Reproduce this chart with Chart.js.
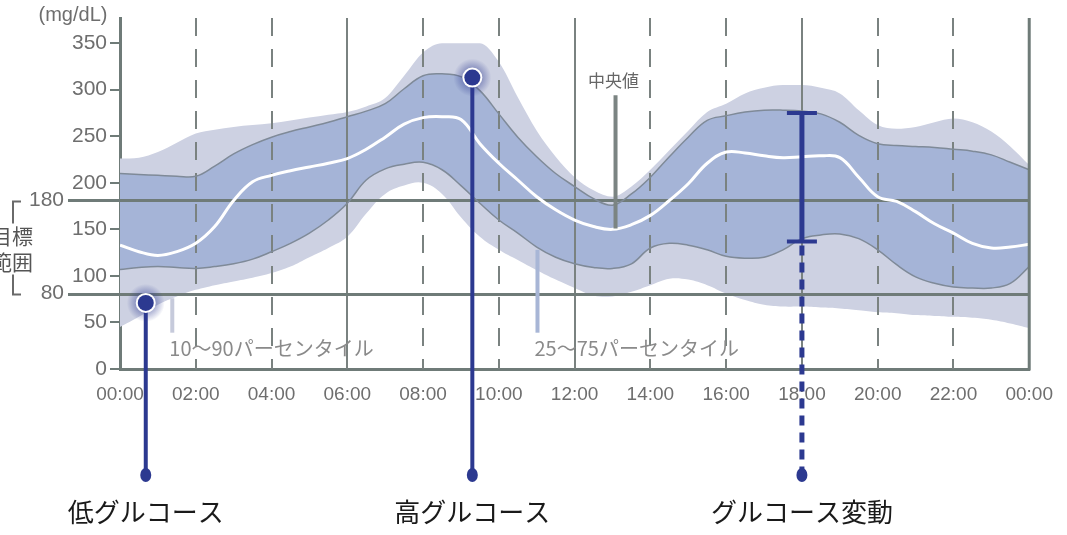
<!DOCTYPE html>
<html><head><meta charset="utf-8">
<script src="https://cdn.jsdelivr.net/npm/chart.js@4/dist/chart.umd.min.js"></script>
<style>html,body{margin:0;padding:0;background:#fff;overflow:hidden}canvas{display:block}</style>
</head><body>
<canvas id="c" width="1067" height="535"></canvas>
<script>
// ---- data ----
const hours = [0,0.5,1,1.5,2,2.5,3,3.5,4,4.5,5,5.5,6,6.5,7,7.5,8,8.5,9,9.5,10,10.5,11,11.5,12,12.5,13,13.5,14,14.5,15,15.5,16,16.5,17,17.5,18,18.5,19,19.5,20,20.5,21,21.5,22,22.5,23,23.5,24];
const p90 = [226,227,233,243,253,257,260,262,264,267,270,273,276,282,291,315,340,350,350,350,330,292,256,228,206,192,185,196,214,235,256,276,285,296,302,305,305,302,296,278,262,258,260,265,269,265,255,239,219];
const p75 = [210,209,208,207,207,218,231,241,249,255,260,265,271,277,285,301,315,317,314,299,274,249,228,210,196,183,176,188,206,228,249,267,272,276,278,278,277,274,265,251,242,240,239,238,236,234,230,222,214];
const median = [133,126,122,126,135,153,181,201,208,213,217,221,226,236,249,263,270,271,268,242,221,203,185,171,160,153,150,155,165,181,199,221,233,232,229,227,228,229,227,206,185,180,169,156,146,135,130,131,134];
const p25 = [107,109,110,109,108,110,113,118,126,135,146,160,178,203,215,220,222,214,197,178,160,146,131,120,113,109,108,113,130,135,133,128,121,119,120,128,140,144,145,140,128,112,99,92,88,87,87,92,110];
const p10 = [45,56,69,78,85,90,94,98,103,110,120,130,142,167,188,197,200,188,163,142,128,117,106,96,87,79,78,83,90,97,96,90,81,74,69,67,67,66,65,63,61,60,58,57,56,55,53,49,44];

const xTickHours = [0,2,4,6,8,10,12,14,16,18,20,22,24];
const xTickLabels = ['00:00','02:00','04:00','06:00','08:00','10:00','12:00','14:00','16:00','18:00','20:00','22:00','00:00'];
const yTickValues = [0,50,100,150,200,250,300,350];
const solidGridHours = [6,12,18];
const dashedGridHours = [2,4,8,10,14,16,20,22];
const targetRange = [80,180];
const unitLabel = '(mg/dL)';
const targetLabel = ['目標','範囲'];

const eventLabels = ['低グルコース','高グルコース','グルコース変動'];
const eventHours = [0.68, 9.3, 18];
const eventValues = [71, 313, null];
const variabilityRange = [137, 275];

const medianLabel = '中央値';
const medianPointer = {hour: 13.08, top: 294, bottom: 151};
const bandLabels = ['10〜90パーセンタイル','25〜75パーセンタイル'];
const bandPointerHours = [1.38, 11.02];
const bandPointerTops = [76, 128];
const bandPointerBottom = 39;

// ---- style ----
const C = {
  light:'#cdd1e2', dark:'#a5b4d7', edge:'#7f8a98', grid:'#7a8280', axis:'#6f7b78',
  tick:'#6e6e6e', blue:'#2c3990', band1:'#c6cadb', band2:'#a8b6d6', pointer:'#7b8482'
};
const JP = '"Noto Sans CJK JP", "Noto Sans", sans-serif';
const LAT = '"Liberation Sans", Arial, sans-serif';

function pts(arr){ return hours.map((h,i)=>({x:h,y:arr[i]})); }

const overlay = {
  id:'overlay',
  beforeDatasetDraw(chart,args){
    if(args.index !== 4) return;
    const {ctx, chartArea:a, scales:{x,y}} = chart;
    ctx.save();
    ctx.lineWidth = 2; ctx.strokeStyle = C.grid;
    ctx.setLineDash([18,13]);
    dashedGridHours.forEach(h=>{const px=Math.round(x.getPixelForValue(h));ctx.beginPath();ctx.moveTo(px,a.top);ctx.lineTo(px,a.bottom);ctx.stroke();});
    ctx.setLineDash([]);
    solidGridHours.forEach(h=>{const px=Math.round(x.getPixelForValue(h));ctx.beginPath();ctx.moveTo(px,a.top);ctx.lineTo(px,a.bottom);ctx.stroke();});
    // target range lines
    ctx.lineWidth = 3; ctx.strokeStyle = C.axis;
    targetRange.forEach(v=>{const py=Math.round(y.getPixelForValue(v))-0.5;ctx.beginPath();ctx.moveTo(68,py);ctx.lineTo(a.right,py);ctx.stroke();});
    ctx.restore();
  },
  afterDraw(chart){
    const {ctx, chartArea:a, scales:{x,y}} = chart;
    ctx.save();
    // right border
    ctx.lineWidth=3; ctx.strokeStyle=C.axis;
    ctx.beginPath(); ctx.moveTo(a.right,a.top); ctx.lineTo(a.right,a.bottom+1.5); ctx.stroke();
    // unit label
    ctx.fillStyle=C.tick; ctx.font='20px '+LAT; ctx.textAlign='center'; ctx.textBaseline='middle';
    ctx.fillText(unitLabel,73,15);
    // target labels
    ctx.textAlign='right'; ctx.font='21px '+LAT;
    targetRange.forEach(v=>{ctx.fillText(String(v),64,y.getPixelForValue(v)-1);});
    const yT=y.getPixelForValue(targetRange[1]), yB=y.getPixelForValue(targetRange[0]);
    ctx.strokeStyle='#6a6a6a'; ctx.lineWidth=2;
    ctx.beginPath(); ctx.moveTo(21,yT); ctx.lineTo(13,yT); ctx.lineTo(13,yT+22); ctx.stroke();
    ctx.beginPath(); ctx.moveTo(13,yB-20); ctx.lineTo(13,yB); ctx.lineTo(21,yB); ctx.stroke();
    ctx.font='21px '+JP; ctx.fillStyle='#555';
    ctx.fillText(targetLabel[0],33,(yT+yB)/2-12);
    ctx.fillText(targetLabel[1],33,(yT+yB)/2+14);
    // median pointer
    const mx=x.getPixelForValue(medianPointer.hour);
    ctx.strokeStyle=C.pointer; ctx.lineWidth=4;
    ctx.beginPath(); ctx.moveTo(mx,y.getPixelForValue(medianPointer.top)); ctx.lineTo(mx,y.getPixelForValue(medianPointer.bottom)); ctx.stroke();
    ctx.fillStyle='#666'; ctx.font='17px '+JP; ctx.textAlign='center';
    ctx.fillText(medianLabel,mx-2,y.getPixelForValue(medianPointer.top)-15);
    // band pointers
    [C.band1,C.band2].forEach((col,i)=>{
      const bx=x.getPixelForValue(bandPointerHours[i]);
      const yb=y.getPixelForValue(bandPointerBottom);
      ctx.strokeStyle=col; ctx.lineWidth=4;
      ctx.beginPath(); ctx.moveTo(bx,y.getPixelForValue(bandPointerTops[i])); ctx.lineTo(bx,yb); ctx.stroke();
      ctx.fillStyle='#8a8a8a'; ctx.font='20px '+JP; ctx.textAlign='left';
      ctx.fillText(bandLabels[i],bx-3,yb+16);
    });
    // event markers
    const dotY=a.bottom+106, labY=a.bottom+143;
    eventHours.forEach((h,i)=>{
      const ex=x.getPixelForValue(h);
      ctx.strokeStyle=C.blue; ctx.fillStyle=C.blue;
      if(eventValues[i]!==null){
        const ey=y.getPixelForValue(eventValues[i]);
        ctx.lineWidth=4; ctx.setLineDash([]);
        ctx.beginPath(); ctx.moveTo(ex,ey); ctx.lineTo(ex,dotY); ctx.stroke();
        const g=ctx.createRadialGradient(ex,ey,6,ex,ey,19);
        g.addColorStop(0,'rgba(44,57,144,0.55)'); g.addColorStop(1,'rgba(44,57,144,0)');
        ctx.fillStyle=g; ctx.beginPath(); ctx.arc(ex,ey,19,0,Math.PI*2); ctx.fill();
        ctx.fillStyle='#ffffff'; ctx.beginPath(); ctx.arc(ex,ey,10,0,Math.PI*2); ctx.fill();
        ctx.fillStyle=C.blue; ctx.beginPath(); ctx.arc(ex,ey,8,0,Math.PI*2); ctx.fill();
      } else {
        const yt=y.getPixelForValue(variabilityRange[1]), yb=y.getPixelForValue(variabilityRange[0]);
        ctx.lineWidth=5;
        ctx.beginPath(); ctx.moveTo(ex,yt); ctx.lineTo(ex,yb); ctx.stroke();
        ctx.lineWidth=4;
        ctx.beginPath(); ctx.moveTo(ex-15,yt); ctx.lineTo(ex+15,yt); ctx.moveTo(ex-15,yb); ctx.lineTo(ex+15,yb); ctx.stroke();
        ctx.lineWidth=5; ctx.setLineDash([10,7]);
        ctx.beginPath(); ctx.moveTo(ex,yb+4); ctx.lineTo(ex,dotY); ctx.stroke();
        ctx.setLineDash([]);
      }
      ctx.fillStyle=C.blue;
      ctx.beginPath(); ctx.ellipse(ex,dotY,5.5,7,0,0,Math.PI*2); ctx.fill();
      ctx.fillStyle='#1a1a1a'; ctx.font='26px '+JP; ctx.textAlign='center'; ctx.textBaseline='middle';
      ctx.fillText(eventLabels[i],ex,labY);
    });
    ctx.restore();
  }
};

const common = {pointRadius:0, pointHoverRadius:0, tension:0.4};
new Chart(document.getElementById('c'), {
  type:'line',
  data:{datasets:[
    {...common, label:'median', data:pts(median), borderColor:'#ffffff', borderWidth:3, fill:false},
    {...common, label:'p75', data:pts(p75), borderColor:C.edge, borderWidth:1.5, backgroundColor:C.dark, fill:2},
    {...common, label:'p25', data:pts(p25), borderColor:C.edge, borderWidth:1.5, fill:false},
    {...common, label:'p90', data:pts(p90), cubicInterpolationMode:'monotone', borderColor:'rgba(0,0,0,0)', borderWidth:0, backgroundColor:C.light, fill:4},
    {...common, label:'p10', data:pts(p10), borderColor:'rgba(0,0,0,0)', borderWidth:0, fill:false}
  ]},
  options:{
    responsive:false, animation:false, events:[],
    layout:{padding:{top:18,right:36,left:0,bottom:0}},
    plugins:{legend:{display:false}, tooltip:{enabled:false}, filler:{drawTime:'beforeDatasetsDraw'}},
    scales:{
      x:{type:'linear', min:0, max:24,
        afterFit(s){s.height=166;},
        afterBuildTicks(s){s.ticks=xTickHours.map(v=>({value:v}));},
        grid:{display:false, drawTicks:false},
        border:{display:true, width:3, color:C.axis},
        ticks:{padding:14, color:C.tick, font:{family:LAT,size:19}, maxRotation:0, autoSkip:false,
          callback:(v,i)=>xTickLabels[i]}
      },
      y:{type:'linear', min:0, max:377,
        afterFit(s){s.width=120;},
        afterBuildTicks(s){s.ticks=yTickValues.map(v=>({value:v}));},
        grid:{display:true, drawOnChartArea:false, drawTicks:true, tickLength:10, color:C.axis, lineWidth:2},
        border:{display:true, width:3, color:C.axis},
        ticks:{padding:3, color:C.tick, font:{family:LAT,size:21}, callback:v=>String(v)}
      }
    }
  },
  plugins:[overlay]
});
</script>
</body></html>
